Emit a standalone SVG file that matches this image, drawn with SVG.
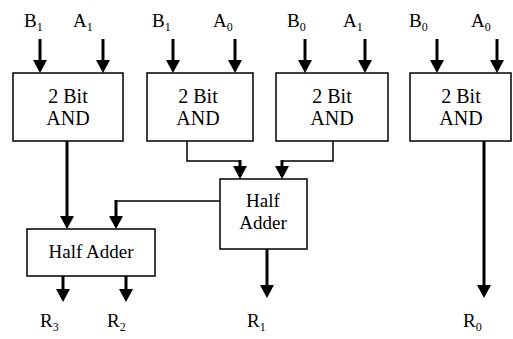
<svg xmlns="http://www.w3.org/2000/svg" width="513" height="339" viewBox="0 0 513 339">
<style>
.box{fill:#fff;stroke:#000;stroke-width:1.5}
.thick{stroke:#000;stroke-width:3;fill:none;marker-end:url(#ah)}
.thin{stroke:#000;stroke-width:1.5;fill:none}
</style>
<defs>
<marker id="ah" markerUnits="userSpaceOnUse" viewBox="0 0 13 14" markerWidth="13" markerHeight="14" refX="10" refY="7" orient="auto">
<path d="M0,0 L13,7 L0,14 z" fill="#000"/>
</marker>
</defs>
<g id="connectors">
<line class="thick" x1="40" y1="39" x2="40" y2="70"/>
<line class="thick" x1="103" y1="39" x2="103" y2="70"/>
<line class="thick" x1="173" y1="39" x2="173" y2="70"/>
<line class="thick" x1="235" y1="39" x2="235" y2="70"/>
<line class="thick" x1="305" y1="39" x2="305" y2="70"/>
<line class="thick" x1="365" y1="39" x2="365" y2="70"/>
<line class="thick" x1="437" y1="39" x2="437" y2="70"/>
<line class="thick" x1="497" y1="39" x2="497" y2="70"/>
<line class="thick" x1="67" y1="141" x2="67" y2="226"/>
<polyline class="thin" points="187,141 187,161 240,161"/>
<line class="thick" x1="240" y1="160" x2="240" y2="176"/>
<polyline class="thin" points="333,141 333,161 282,161"/>
<line class="thick" x1="282" y1="160" x2="282" y2="176"/>
<polyline class="thin" points="220,201 116,201"/>
<line class="thick" x1="116" y1="200" x2="116" y2="226"/>
<line class="thick" x1="63" y1="276" x2="63" y2="299"/>
<line class="thick" x1="126" y1="276" x2="126" y2="299"/>
<line class="thick" x1="267" y1="249" x2="267" y2="295"/>
<line class="thick" x1="484" y1="141" x2="484" y2="295"/>
</g>
<g id="and1"><rect class="box" x="13" y="73" width="110" height="68"/><text x="68" y="103" font-family="Liberation Serif" font-size="20" text-anchor="middle">2 Bit</text><text x="68" y="125" font-family="Liberation Serif" font-size="20" text-anchor="middle">AND</text></g>
<g id="and2"><rect class="box" x="147" y="73" width="106" height="68"/><text x="198" y="103" font-family="Liberation Serif" font-size="20" text-anchor="middle">2 Bit</text><text x="198" y="125" font-family="Liberation Serif" font-size="20" text-anchor="middle">AND</text></g>
<g id="and3"><rect class="box" x="276" y="73" width="112" height="68"/><text x="332" y="103" font-family="Liberation Serif" font-size="20" text-anchor="middle">2 Bit</text><text x="332" y="125" font-family="Liberation Serif" font-size="20" text-anchor="middle">AND</text></g>
<g id="and4"><rect class="box" x="410" y="73" width="101" height="68"/><text x="461" y="103" font-family="Liberation Serif" font-size="20" text-anchor="middle">2 Bit</text><text x="461" y="125" font-family="Liberation Serif" font-size="20" text-anchor="middle">AND</text></g>
<g id="ha2"><rect class="box" x="220" y="179" width="87" height="70"/><text x="263" y="207" font-family="Liberation Serif" font-size="19" text-anchor="middle">Half</text><text x="263" y="229" font-family="Liberation Serif" font-size="19" text-anchor="middle">Adder</text></g>
<g id="ha1"><rect class="box" x="27" y="229" width="128" height="47"/><text x="91" y="258" font-family="Liberation Serif" font-size="19" text-anchor="middle">Half Adder</text></g>
<g id="labels">
<text x="24" y="27" font-family="Liberation Serif" font-size="19">B<tspan font-size="12" dy="4">1</tspan></text>
<text x="73" y="27" font-family="Liberation Serif" font-size="19">A<tspan font-size="12" dy="4">1</tspan></text>
<text x="152" y="27" font-family="Liberation Serif" font-size="19">B<tspan font-size="12" dy="4">1</tspan></text>
<text x="213" y="27" font-family="Liberation Serif" font-size="19">A<tspan font-size="12" dy="4">0</tspan></text>
<text x="287" y="27" font-family="Liberation Serif" font-size="19">B<tspan font-size="12" dy="4">0</tspan></text>
<text x="343" y="27" font-family="Liberation Serif" font-size="19">A<tspan font-size="12" dy="4">1</tspan></text>
<text x="409" y="27" font-family="Liberation Serif" font-size="19">B<tspan font-size="12" dy="4">0</tspan></text>
<text x="471" y="27" font-family="Liberation Serif" font-size="19">A<tspan font-size="12" dy="4">0</tspan></text>
<text x="40" y="327" font-family="Liberation Serif" font-size="19">R<tspan font-size="12" dy="4">3</tspan></text>
<text x="107" y="327" font-family="Liberation Serif" font-size="19">R<tspan font-size="12" dy="4">2</tspan></text>
<text x="247" y="327" font-family="Liberation Serif" font-size="19">R<tspan font-size="12" dy="4">1</tspan></text>
<text x="463" y="327" font-family="Liberation Serif" font-size="19">R<tspan font-size="12" dy="4">0</tspan></text>
</g>
</svg>
